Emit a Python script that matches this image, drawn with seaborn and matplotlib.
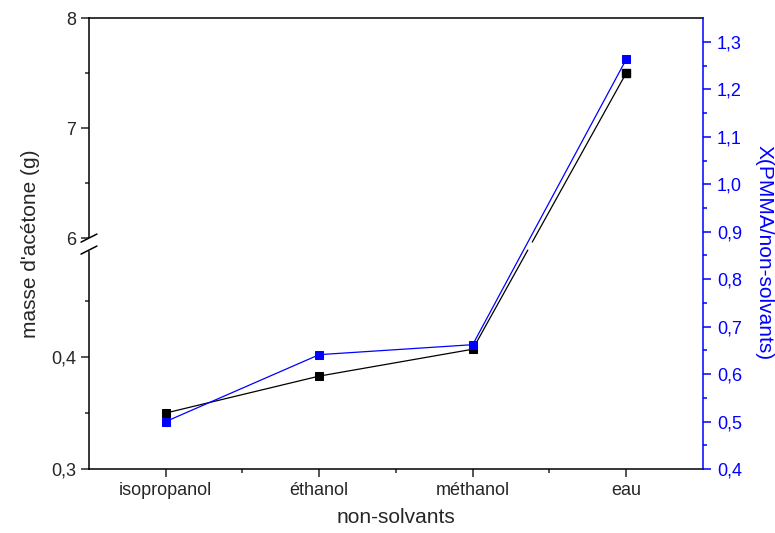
import numpy as np
import matplotlib
matplotlib.use("Agg")
import matplotlib.pyplot as plt
from matplotlib.ticker import FixedLocator, FuncFormatter
import seaborn as sns

# data
solvants = ["isopropanol", "éthanol", "méthanol", "eau"]
masse_acetone = [0.350, 0.383, 0.407, 7.50]      # left axis (g), broken axis
x_pmma = [0.500, 0.641, 0.662, 1.263]            # right axis

sns.set_style("ticks")
plt.rcParams["font.family"] = ["Liberation Sans", "DejaVu Sans"]
plt.rcParams["font.size"] = 13

BLUE = "#0000FF"

# broken scale for the left axis: 0.3..~0.495 below, 6..8 above
LOW0, LOW_TOP, HIGH0 = 0.3, 0.3 + 219 / 1120, 6.0
K_LOW, K_HIGH = 1120.0, 110.0
T_LOWTOP, T_HIGH0 = 219.0, 231.0


def fwd(y):
    y = np.asarray(y, dtype=float)
    lo = (y - LOW0) * K_LOW
    mid = T_LOWTOP + (y - LOW_TOP) * (T_HIGH0 - T_LOWTOP) / (HIGH0 - LOW_TOP)
    hi = T_HIGH0 + (y - HIGH0) * K_HIGH
    return np.where(y <= LOW_TOP, lo, np.where(y < HIGH0, mid, hi))


def inv(t):
    t = np.asarray(t, dtype=float)
    lo = LOW0 + t / K_LOW
    mid = LOW_TOP + (t - T_LOWTOP) * (HIGH0 - LOW_TOP) / (T_HIGH0 - T_LOWTOP)
    hi = HIGH0 + (t - T_HIGH0) / K_HIGH
    return np.where(t <= T_LOWTOP, lo, np.where(t < T_HIGH0, mid, hi))


fig = plt.figure(figsize=(7.75, 5.33), dpi=100)
ax = fig.add_axes([0.1148, 0.12, 0.907 - 0.1148, 0.966 - 0.12])
ax.set_yscale("function", functions=(fwd, inv))

xpos = np.arange(len(solvants)) + 1

# black series: first three points, then the rising segment cut at the break
sns.lineplot(x=xpos[:3], y=masse_acetone[:3], ax=ax, color="black", linewidth=0.9,
             marker="s", markersize=6, markeredgecolor="black")
t1, t2 = fwd(masse_acetone[2]), fwd(masse_acetone[3])
xa = xpos[2] + (T_LOWTOP - t1) / (t2 - t1)
xb = xpos[2] + (T_HIGH0 - 4 - t1) / (t2 - t1)
ax.plot([xpos[2], xa], [masse_acetone[2], LOW_TOP], color="black", linewidth=0.9)
ax.plot([xb, xpos[3]], [inv(T_HIGH0 - 4), masse_acetone[3]], color="black", linewidth=0.9)
ax.plot([xpos[3]], [masse_acetone[3]], color="black", marker="s", markersize=6, linestyle="none")

ax.set_xlim(0.5, 4.5)
ax.set_ylim(0.3, 8)
ax.set_xticks(xpos)
ax.set_xticklabels(solvants)
ax.xaxis.set_minor_locator(FixedLocator([1.5, 2.5, 3.5]))
ax.yaxis.set_major_locator(FixedLocator([0.3, 0.4, 6, 7, 8]))
ax.yaxis.set_minor_locator(FixedLocator([0.35, 0.45, 6.5, 7.5]))
ax.yaxis.set_major_formatter(FuncFormatter(lambda v, p: f"{v:g}".replace(".", ",")))
ax.yaxis.set_minor_formatter(FuncFormatter(lambda v, p: ""))
ax.tick_params(which="major", direction="out", length=6, width=1.1, labelsize=13, pad=3)
ax.tick_params(which="minor", direction="out", length=3, width=1.1)
ax.tick_params(axis="x", which="both", top=False)
for s in ["left", "bottom", "top"]:
    ax.spines[s].set_linewidth(1.1)
    ax.spines[s].set_color("black")
ax.spines["right"].set_visible(False)
ax.set_xlabel("non-solvants", fontsize=15, labelpad=7)
ax.set_ylabel("masse d'acétone (g)", fontsize=15, labelpad=8)

# break marks on the left spine
yb0 = (fwd(LOW_TOP) - fwd(0.3)) / (fwd(8) - fwd(0.3))
yb1 = (fwd(HIGH0) - fwd(0.3)) / (fwd(8) - fwd(0.3))
ax.plot([0, 0], [yb0 + 0.002, yb1 - 0.002], transform=ax.transAxes, color="white",
        linewidth=2.5, clip_on=False, zorder=5)
for yy in (yb0, yb1):
    ax.plot([-0.013, 0.013], [yy - 0.009, yy + 0.009], transform=ax.transAxes,
            color="black", linewidth=1.1, clip_on=False, zorder=6)

# right axis
ax2 = ax.twinx()
sns.lineplot(x=xpos, y=x_pmma, ax=ax2, color=BLUE, linewidth=0.9,
             marker="s", markersize=6, markeredgecolor=BLUE)
ax2.set_ylim(0.4, 1.35)
ax2.yaxis.set_major_locator(FixedLocator(np.round(np.arange(0.4, 1.31, 0.1), 2)))
ax2.yaxis.set_minor_locator(FixedLocator(np.round(np.arange(0.45, 1.35, 0.1), 2)))
ax2.yaxis.set_major_formatter(FuncFormatter(lambda v, p: f"{v:.1f}".replace(".", ",")))
ax2.tick_params(which="major", direction="out", length=6, width=1.1, colors=BLUE, labelsize=13, pad=4)
ax2.tick_params(which="minor", direction="out", length=3, width=1.1, colors=BLUE)
ax2.spines["right"].set_color(BLUE)
ax2.spines["right"].set_linewidth(1.1)
for s in ["left", "top", "bottom"]:
    ax2.spines[s].set_visible(False)
ax2.set_ylabel("X(PMMA/non-solvants)", color=BLUE, fontsize=15, rotation=270, labelpad=18)
ax2.yaxis.set_label_coords(1.115, 0.48)

fig.savefig("out.png", dpi=100)
